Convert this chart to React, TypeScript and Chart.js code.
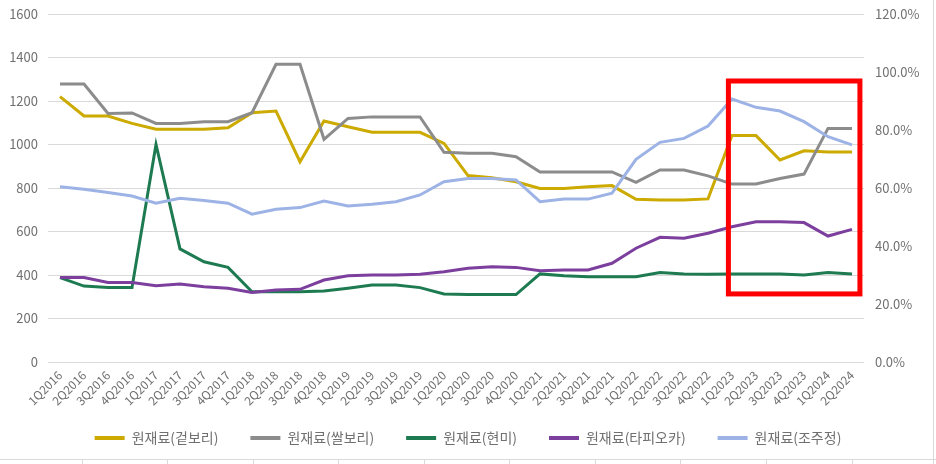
import { useEffect, useRef } from 'react';
import { Chart, registerables } from 'chart.js';

Chart.register(...registerables);

const categories = [
  '1Q2016', '2Q2016', '3Q2016', '4Q2016', '1Q2017', '2Q2017', '3Q2017', '4Q2017',
  '1Q2018', '2Q2018', '3Q2018', '4Q2018', '1Q2019', '2Q2019', '3Q2019', '4Q2019',
  '1Q2020', '2Q2020', '3Q2020', '4Q2020', '1Q2021', '2Q2021', '3Q2021', '4Q2021',
  '1Q2022', '2Q2022', '3Q2022', '4Q2022', '1Q2023', '2Q2023', '3Q2023', '4Q2023',
  '1Q2024', '2Q2024',
];

const seriesNames = ['원재료(겉보리)', '원재료(쌀보리)', '원재료(현미)', '원재료(타피오카)', '원재료(조주정)'];

const hulledBarley = [
  1220, 1131, 1131, 1097, 1070, 1070, 1070, 1077, 1146, 1154, 921, 1108,
  1082, 1056, 1056, 1056, 1005, 857, 847, 829, 798, 798, 806, 811,
  748, 745, 745, 750, 1041, 1041, 929, 971, 966, 966,
];
const nakedBarley = [
  1278, 1278, 1143, 1145, 1097, 1097, 1105, 1105, 1146, 1369, 1369, 1024,
  1120, 1127, 1127, 1127, 964, 960, 960, 944, 874, 874, 874, 874,
  826, 883, 883, 856, 818, 818, 844, 864, 1074, 1074,
];
const brownRice = [
  388, 349, 342, 342, 1000, 520, 461, 435, 323, 323, 323, 326,
  339, 354, 354, 342, 313, 310, 310, 310, 405, 397, 392, 392,
  392, 411, 405, 403, 405, 405, 405, 400, 412, 405,
];
const tapioca = [
  388, 388, 366, 365, 351, 359, 346, 339, 320, 331, 334, 377,
  397, 400, 400, 403, 415, 431, 438, 435, 420, 423, 423, 454,
  523, 573, 569, 592, 622, 645, 645, 641, 579, 610,
];
const spirit = [
  806, 794, 779, 763, 730, 753, 742, 730, 680, 702, 710, 740,
  717, 725, 737, 768, 829, 844, 844, 837, 737, 749, 749, 776,
  932, 1010, 1028, 1085, 1209, 1171, 1154, 1105, 1036, 998,
];

const leftAxis = { min: 0, max: 1600, step: 200 };
const rightAxis = { min: 0, max: 1.2, step: 0.2 };

// highlighted region (category index range and value range)
const highlight = { fromIndex: 27.85, toIndex: 33.33, low: 313, high: 1292 };

const colors = ['#CCAA00', '#8C8C8C', '#1E7B51', '#7D3F9E', '#9DB3E6'];
const FONT = "'Noto Sans CJK KR', 'Noto Sans', sans-serif";
const TEXT = '#707070';

export default function App() {
  const ref = useRef<HTMLCanvasElement | null>(null);

  useEffect(() => {
    if (!ref.current) return;
    const values = [hulledBarley, nakedBarley, brownRice, tapioca, spirit];

    const backgroundPlugin = {
      id: 'sheetLines',
      beforeDraw(chart: any) {
        const c = chart.ctx;
        c.save();
        c.strokeStyle = '#D9D9D9';
        c.lineWidth = 1;
        c.beginPath();
        c.moveTo(0, 459.5);
        c.lineTo(936, 459.5);
        c.moveTo(933.5, 0);
        c.lineTo(933.5, 464);
        [82, 167, 253, 338, 424, 509, 595, 680, 766, 852].forEach((x) => {
          c.moveTo(x + 0.5, 459);
          c.lineTo(x + 0.5, 464);
        });
        c.stroke();
        c.restore();
      },
    };

    const highlightPlugin = {
      id: 'highlightBox',
      afterDatasetsDraw(chart: any) {
        const xs = chart.scales.x;
        const ys = chart.scales.y;
        const x1 = xs.getPixelForValue(highlight.fromIndex);
        const x2 = xs.getPixelForValue(highlight.toIndex);
        const y1 = ys.getPixelForValue(highlight.high);
        const y2 = ys.getPixelForValue(highlight.low);
        const c = chart.ctx;
        c.save();
        c.strokeStyle = '#FF0000';
        c.lineWidth = 5;
        c.strokeRect(x1, y1, x2 - x1, y2 - y1);
        c.restore();
      },
    };

    const chart = new Chart(ref.current, {
      type: 'line',
      data: {
        labels: categories,
        datasets: seriesNames.map((name, i) => ({
          label: name,
          data: values[i],
          borderColor: colors[i],
          backgroundColor: colors[i],
          borderWidth: 3,
          pointRadius: 0,
          pointHoverRadius: 0,
          tension: 0,
          yAxisID: 'y',
          order: seriesNames.length - i,
        })),
      },
      options: {
        responsive: false,
        animation: false,
        layout: { padding: { left: 0, right: 0, top: 14, bottom: 9 } },
        plugins: {
          tooltip: { enabled: false },
          legend: {
            position: 'bottom',
            labels: {
              boxWidth: 30,
              boxHeight: 4,
              padding: 32,
              color: TEXT,
              font: { size: 14, family: FONT },
              generateLabels: (ch: any) =>
                ch.data.datasets.map((ds: any, i: number) => ({
                  text: ds.label,
                  fillStyle: ds.borderColor,
                  strokeStyle: ds.borderColor,
                  lineWidth: 0,
                  hidden: false,
                  datasetIndex: i,
                  fontColor: TEXT,
                })),
            },
          },
        },
        scales: {
          x: {
            offset: true,
            grid: { display: false, drawTicks: false },
            border: { display: false },
            ticks: {
              autoSkip: false,
              minRotation: 45,
              maxRotation: 45,
              padding: 6,
              color: TEXT,
              font: { size: 12, family: FONT },
            },
            afterFit(s: any) {
              s.height = 37;
              // let the rotated labels overflow the axis box instead of being clipped
              s._computeLabelArea = () => undefined;
            },
          },
          y: {
            position: 'left',
            min: leftAxis.min,
            max: leftAxis.max,
            ticks: {
              stepSize: leftAxis.step,
              padding: 10,
              color: TEXT,
              font: { size: 13, family: FONT },
              callback: (v: any) => String(v),
            },
            grid: { color: '#D9D9D9', lineWidth: 1, drawTicks: false },
            border: { display: false },
            afterFit(s: any) {
              s.width = 48;
              s.paddingTop = 0;
              s.paddingBottom = 0;
            },
          },
          y2: {
            position: 'right',
            min: rightAxis.min,
            max: rightAxis.max,
            ticks: {
              stepSize: rightAxis.step,
              padding: 11,
              color: TEXT,
              font: { size: 13, family: FONT },
              callback: (v: any) => (Number(v) * 100).toFixed(1) + '%',
            },
            grid: { drawOnChartArea: false, drawTicks: false },
            border: { display: false },
            afterFit(s: any) {
              s.width = 72;
              s.paddingTop = 0;
              s.paddingBottom = 0;
            },
          },
        },
      },
      plugins: [backgroundPlugin, highlightPlugin],
    });

    return () => chart.destroy();
  }, []);

  return (
    <div style={{ position: 'fixed', left: 0, top: 0, width: 936, height: 464, background: '#fff' }}>
      <canvas ref={ref} width={936} height={464} style={{ display: 'block' }} />
    </div>
  );
}
